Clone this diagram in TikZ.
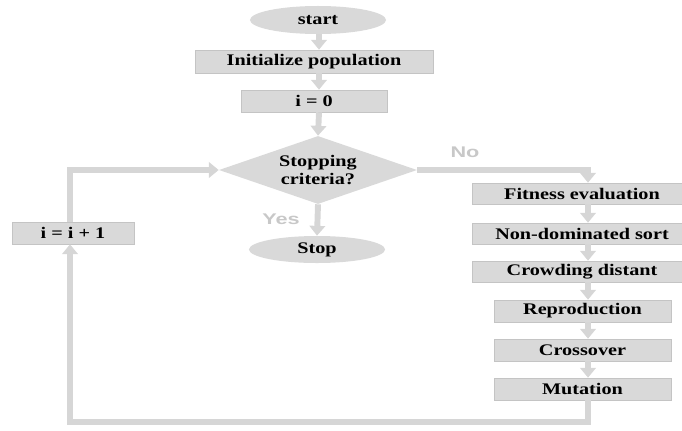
\documentclass[tikz,border=0pt]{standalone}
\usepackage{fontspec}
\setmainfont{Liberation Serif}
\setsansfont{Liberation Sans}
\usepackage{graphicx}
\usepackage{tikz}
\usetikzlibrary{arrows.meta,shapes.geometric}
\definecolor{boxgray}{RGB}{217,217,217}
\definecolor{edgegray}{RGB}{196,196,196}
\definecolor{flowgray}{RGB}{214,214,214}
\definecolor{labelgray}{RGB}{200,200,200}
\newcommand{\wtext}[1]{\scalebox{1.25}[1]{#1}}
\newcommand{\wlabel}[1]{\scalebox{1.4}[1]{#1}}
\begin{document}
\begin{tikzpicture}[x=0.025cm,y=0.025cm]
\tikzset{block/.style = {shape=rectangle,draw=edgegray,line width=0.4pt,fill=boxgray,inner sep=0pt,font=\bfseries\fontsize{11.5}{13}\selectfont}}
\tikzset{term/.style = {shape=ellipse,fill=boxgray,inner sep=0pt,minimum width=3.4cm,font=\bfseries\fontsize{11.5}{13}\selectfont}}
\tikzset{flow/.style = {draw=flowgray,line width=4.2pt,line join=miter,-{Triangle[width=11pt,length=7pt]}}}
\tikzset{answer/.style = {text=labelgray,font=\sffamily\bfseries\fontsize{11}{13}\selectfont}}
\useasboundingbox (0,0) rectangle (682,430);
% vertices
\node[term,minimum height=0.7cm] (start) at (318,410) {\wtext{start}};
\node[block,minimum width=5.95cm,minimum height=0.575cm] (init) at (314,368.5) {\wtext{Initialize population}};
\node[block,minimum width=3.65cm,minimum height=0.55cm] (izero) at (314,329) {\wtext{i = 0}};
\node[shape=diamond,aspect=2.9,fill=boxgray,inner sep=0pt,minimum width=4.95cm,minimum height=1.7cm,align=center,
  font=\bfseries\fontsize{11.5}{13}\selectfont] (crit) at (318,260) {\wtext{Stopping}\\\wtext{criteria?}};
\node[term,minimum height=0.675cm] (stop) at (317,180.5) {\wtext{Stop}};
\node[block,minimum width=3.05cm,minimum height=0.55cm] (inc) at (73,197) {\wtext{i = i + 1}};
\node[block,minimum width=5.5cm,minimum height=0.525cm] (fit) at (582,236.5) {\wtext{Fitness evaluation}};
\node[block,minimum width=5.5cm,minimum height=0.525cm] (nds) at (582,196.5) {\wtext{Non-dominated sort}};
\node[block,minimum width=5.5cm,minimum height=0.525cm] (crowd) at (582,158.5) {\wtext{Crowding distant}};
\node[block,minimum width=4.425cm,minimum height=0.55cm] (repro) at (582.5,119) {\wtext{Reproduction}};
\node[block,minimum width=4.425cm,minimum height=0.55cm] (cross) at (582.5,80) {\wtext{Crossover}};
\node[block,minimum width=4.425cm,minimum height=0.55cm] (mut) at (582.5,41) {\wtext{Mutation}};
\node[answer] (yes) at (281,211) {\wlabel{Yes}};
\node[answer] (no) at (465,278) {\wlabel{No}};
\coordinate (axis) at (319,0);
\coordinate (col) at (588,0);
\coordinate (bot) at (70,8);
%edges
\draw[flow] (start.south -| axis) -- (init.north -| axis);
\draw[flow] (init.south -| axis) -- (izero.north -| axis);
\draw[flow] (izero.south -| axis) -- (crit.north);
\draw[flow] (crit.south) -- (stop.north);
\draw[flow] (crit.east) -| (fit.north -| col);
\draw[flow] (fit.south -| col) -- (nds.north -| col);
\draw[flow] (nds.south -| col) -- (crowd.north -| col);
\draw[flow] (crowd.south -| col) -- (repro.north -| col);
\draw[flow] (repro.south -| col) -- (cross.north -| col);
\draw[flow] (cross.south -| col) -- (mut.north -| col);
\draw[flow] (mut.south -| col) |- (bot) -- (inc.south -| bot);
\draw[flow] (inc.north -| bot) |- (crit.west);
\end{tikzpicture}
\end{document}
